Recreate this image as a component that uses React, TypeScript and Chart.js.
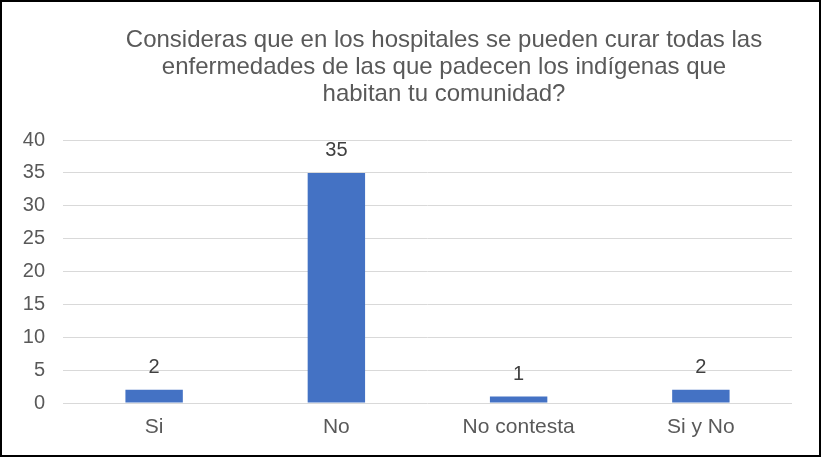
import React, { useEffect, useRef } from "react";
import { Chart, registerables } from "chart.js";

Chart.register(...registerables);

const titleLines = [
  "Consideras que en los hospitales se pueden curar todas las",
  "enfermedades de las que padecen los indígenas que",
  "habitan tu comunidad?",
];
const categories = ["Si", "No", "No contesta", "Si y No"];
const values = [2, 35, 1, 2];
const yTicks = [0, 5, 10, 15, 20, 25, 30, 35, 40];

const FONT = "'Liberation Sans', Arial, sans-serif";

const titlePlugin = {
  id: "customTitle",
  afterDraw(chart: any) {
    const ctx = chart.ctx;
    ctx.save();
    ctx.font = `24px ${FONT}`;
    ctx.fillStyle = "#595959";
    ctx.textAlign = "center";
    ctx.textBaseline = "alphabetic";
    titleLines.forEach((t, i) => {
      ctx.fillText(t, 442, 45 + i * 27);
    });
    ctx.restore();
  },
};

const labelPlugin = {
  id: "barLabels",
  afterDatasetsDraw(chart: any) {
    const ctx = chart.ctx;
    const meta = chart.getDatasetMeta(0);
    ctx.save();
    ctx.font = `20px ${FONT}`;
    ctx.fillStyle = "#404040";
    ctx.textAlign = "center";
    ctx.textBaseline = "middle";
    meta.data.forEach((bar: any, i: number) => {
      ctx.fillText(String(values[i]), bar.x, bar.y - 22);
    });
    ctx.restore();
  },
};

export default function App() {
  const ref = useRef<HTMLCanvasElement>(null);
  useEffect(() => {
    document.body.style.margin = "0";
    const chart = new Chart(ref.current!, {
      type: "bar",
      data: {
        labels: categories,
        datasets: [
          {
            data: values,
            backgroundColor: "#4472C4",
            barPercentage: 1,
            categoryPercentage: 0.315,
          },
        ],
      },
      options: {
        animation: false,
        responsive: false,
        layout: { padding: { top: 138, right: 27, left: 0, bottom: 0 } },
        plugins: { legend: { display: false }, tooltip: { enabled: false }, title: { display: false } },
        scales: {
          y: {
            min: 0,
            max: 40,
            afterFit(scale: any) {
              scale.width = 61;
            },
            afterBuildTicks(scale: any) {
              scale.ticks = yTicks.map((v) => ({ value: v }));
            },
            grid: { color: "#d9d9d9", drawTicks: false, lineWidth: 1 },
            border: { display: false },
            ticks: { color: "#595959", font: { size: 20, family: FONT }, padding: 18 },
          },
          x: {
            afterFit(scale: any) {
              scale.height = 52;
            },
            grid: { display: false, drawTicks: false },
            border: { display: false },
            ticks: { color: "#595959", font: { size: 21, family: FONT }, padding: 12 },
          },
        },
      },
      plugins: [titlePlugin, labelPlugin],
    });
    return () => chart.destroy();
  }, []);
  return (
    <div
      style={{
        position: "absolute",
        left: 0,
        top: 0,
        width: 821,
        height: 457,
        boxSizing: "border-box",
        border: "2px solid #000",
        background: "#fff",
      }}
    >
      <canvas ref={ref} width={817} height={453} style={{ display: "block" }} />
    </div>
  );
}
